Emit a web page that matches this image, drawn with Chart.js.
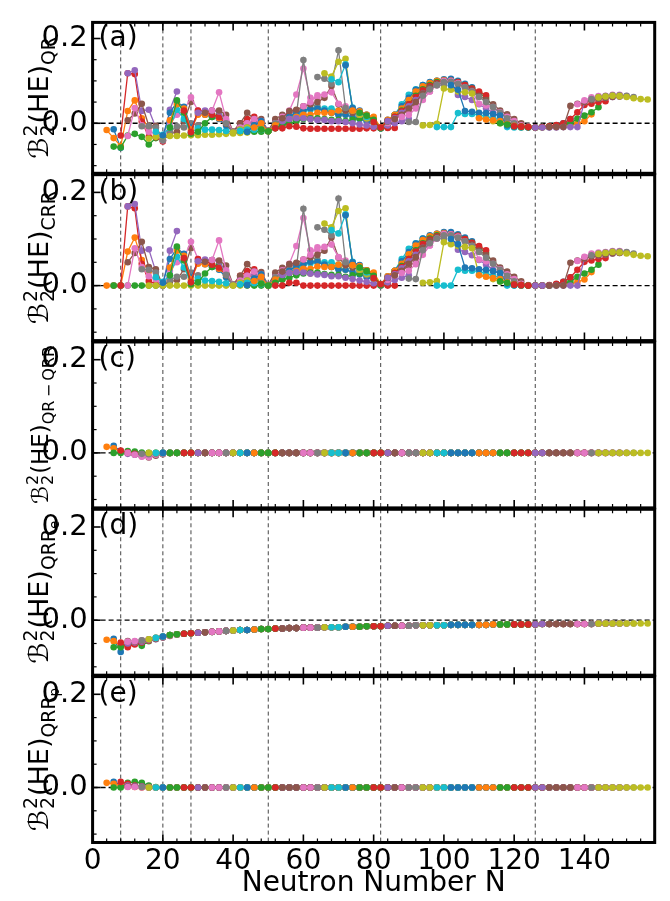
<!DOCTYPE html>
<html>
<head>
<meta charset="utf-8">
<script src="https://cdn.jsdelivr.net/npm/chart.js@4.4.1/dist/chart.umd.min.js"></script>
<style>
  body { margin: 0; background: #fff; width: 670px; height: 901px; position: relative; overflow: hidden; }
  canvas { position: absolute; left: 0; top: 0; }
</style>
</head>
<body>
<canvas id="panel0" width="670" height="901"></canvas>
<canvas id="panel1" width="670" height="901"></canvas>
<canvas id="panel2" width="670" height="901"></canvas>
<canvas id="panel3" width="670" height="901"></canvas>
<canvas id="panel4" width="670" height="901"></canvas>
<script>
// isotopic chains (even Z), first neutron number of each chain, points every 2 neutrons
const chainStartN = [6, 4, 6, 8, 10, 10, 10, 14, 16, 18, 20, 22, 22, 26, 30, 32, 34, 38, 40, 42, 44, 46, 48, 52, 54,
  54, 60, 64, 66, 68, 72, 74, 76, 80, 84, 86, 88, 90, 94, 98, 102, 110, 116, 120, 126, 130, 138, 142, 144];

// panel (a): B(HE)_QR per chain
const qrValues = [
  [-0.014, -0.058],
  [-0.016, -0.035, -0.054, 0.029, 0.054, 0.012, -0.010],
  [-0.055, -0.057, -0.029, -0.025, -0.032, -0.050, -0.035, -0.034],
  [-0.029, 0.118, 0.116, 0.004, -0.032, -0.033, -0.043, -0.020],
  [0.118, 0.125, 0.029, 0.032, -0.010, -0.040, 0.032, 0.075],
  [0.007, 0.023, 0.046, -0.006, -0.006, -0.040, -0.025, -0.020, 0.005, 0.050],
  [-0.030, 0.036, -0.005, -0.020, -0.025, -0.040, 0.000, 0.020, 0.030, 0.061, 0.030],
  [-0.007, -0.007, -0.010, -0.040, -0.020, -0.007, -0.010, 0.000, -0.005],
  [-0.036, -0.032, -0.030, -0.030, -0.030, -0.029, -0.028, -0.028, -0.027, -0.027, -0.026, -0.025, -0.024, -0.023, -0.022],
  [-0.020, -0.027, -0.010, 0.032, 0.010, -0.021, -0.012, -0.015, -0.015, -0.016, -0.018, -0.020, -0.018],
  [-0.029, 0.025, 0.050, 0.039, -0.010, 0.025, 0.020, 0.015, 0.010, -0.005, -0.020, -0.015, -0.005, -0.010],
  [0.007, 0.045, 0.035, -0.015, 0.020, 0.020, 0.020, 0.012, 0.000, -0.020, -0.010, 0.000, 0.000, -0.010],
  [-0.010, 0.054, 0.025, -0.025, -0.020, 0.000, 0.015, 0.022, 0.000, -0.020, -0.018, -0.020, -0.020, -0.020, -0.019],
  [0.030, -0.021, 0.030, 0.028, 0.020, 0.015, 0.000, -0.020, 0.000, 0.010, 0.015, 0.005, -0.018, -0.010, -0.005],
  [0.025, 0.030, 0.030, 0.028, 0.005, -0.020, -0.005, 0.000, 0.005, 0.000, -0.019, 0.005, 0.012, 0.010, 0.008],
  [0.025, 0.030, 0.030, 0.020, -0.020, 0.000, 0.025, 0.010, 0.010, -0.018, 0.010, 0.020, 0.025, 0.030, 0.020, 0.010],
  [0.030, 0.073, 0.010, -0.020, -0.010, 0.000, 0.010, 0.005, -0.018, 0.000, 0.015, 0.030, 0.068, 0.129, 0.060, 0.060],
  [0.000, -0.020, -0.015, -0.010, -0.005, -0.010, -0.018, 0.000, 0.010, 0.020, 0.020, 0.149, 0.046, 0.040, 0.030, 0.025, 0.020],
  [-0.022, -0.015, -0.010, -0.010, -0.015, -0.019, -0.005, 0.005, 0.010, 0.015, 0.030, 0.035, 0.035, 0.030, 0.030, 0.025, 0.020],
  [-0.018, -0.015, -0.015, -0.016, -0.019, -0.010, 0.000, 0.010, 0.020, 0.030, 0.032, 0.034, 0.035, 0.035, 0.030, 0.030, 0.025, 0.020],
  [-0.020, -0.005, 0.005, -0.019, -0.005, 0.005, 0.015, 0.025, 0.030, 0.035, 0.035, 0.030, 0.025, 0.020, 0.020, 0.015, 0.010, 0.005, 0.000],
  [-0.010, 0.000, -0.019, -0.005, 0.005, 0.010, 0.015, 0.020, 0.020, 0.025, 0.025, 0.025, 0.030, 0.030, 0.030, 0.025, 0.020, 0.015, -0.010],
  [-0.015, -0.019, -0.012, -0.005, 0.000, 0.005, 0.010, 0.012, 0.012, 0.010, 0.008, 0.008, 0.005, 0.008, 0.012, 0.015, 0.005, -0.012, -0.010],
  [-0.012, -0.012, -0.007, -0.008, -0.012, -0.013, -0.013, -0.013, -0.013, -0.013, -0.013, -0.013, -0.013, -0.012, -0.012, -0.012, -0.011, -0.011],
  [0.005, 0.010, 0.012, 0.012, 0.010, 0.008, 0.008, 0.005, 0.005, 0.003, 0.000, -0.003, -0.005, -0.008, -0.012, -0.005, 0.000, 0.005, 0.010],
  [0.012, 0.029, 0.032, 0.040, 0.045, 0.050, 0.060, 0.088, 0.045, 0.030, 0.025, 0.020, 0.012, 0.005, -0.010, 0.000, 0.010, 0.020, 0.030, 0.040],
  [0.040, 0.050, 0.066, 0.068, 0.073, 0.046, 0.040, 0.030, 0.020, 0.015, 0.005, -0.010, 0.000, 0.010, 0.020, 0.035, 0.050, 0.065, 0.075],
  [0.109, 0.105, 0.093, 0.172, 0.036, 0.030, 0.020, 0.010, 0.003, -0.010, 0.005, 0.015, 0.025, 0.040, 0.050, 0.070, 0.080, 0.090, 0.090],
  [0.118, 0.110, 0.145, 0.152, 0.030, 0.020, 0.012, 0.003, -0.010, 0.005, 0.020, 0.035, 0.050, 0.065, 0.085, 0.090, 0.095, 0.100, 0.100],
  [0.104, 0.097, 0.139, 0.037, 0.025, 0.015, 0.005, -0.012, 0.005, 0.020, 0.045, 0.067, 0.080, 0.090, 0.095, 0.100, 0.100, 0.098, 0.095, 0.090],
  [0.137, 0.036, 0.030, 0.020, 0.008, -0.010, 0.008, 0.020, 0.040, 0.060, 0.079, 0.090, 0.097, 0.100, 0.104, 0.105, 0.100, 0.093, 0.085],
  [0.030, 0.028, 0.020, 0.010, -0.010, 0.008, 0.020, 0.035, 0.055, 0.075, 0.087, 0.095, 0.100, 0.102, 0.100, 0.095, 0.088, 0.080, 0.070],
  [0.025, 0.018, 0.008, -0.012, 0.005, 0.015, 0.030, 0.045, 0.065, 0.080, 0.090, 0.097, 0.100, 0.100, 0.097, 0.090, 0.082, 0.072, 0.060, 0.040],
  [0.003, -0.010, 0.005, 0.015, 0.028, 0.045, 0.062, 0.078, 0.088, 0.095, 0.100, 0.100, 0.097, 0.090, 0.082, 0.075, 0.066],
  [0.005, 0.012, 0.025, 0.040, 0.055, 0.070, 0.082, 0.092, 0.098, 0.098, 0.067, 0.062, 0.055, 0.045, 0.035, 0.025, 0.015, 0.005],
  [0.010, 0.020, 0.035, 0.050, 0.070, 0.085, 0.093, 0.098, 0.097, 0.092, 0.085, 0.078, 0.065, 0.055, 0.045, 0.030, 0.021, 0.010, 0.000],
  [0.015, 0.020, 0.035, 0.055, 0.075, 0.090, 0.100, 0.100, 0.095, 0.085, 0.075, 0.046, 0.042, 0.038, 0.026, 0.015, 0.005, -0.005, -0.008],
  [0.003, 0.003, 0.065, 0.080, 0.090, 0.097, 0.098, 0.093, 0.085, 0.075, 0.062, 0.050, 0.038, 0.025, 0.012, 0.000, -0.008, -0.009, -0.010],
  [-0.005, -0.004, -0.001, 0.082, 0.079, 0.075, 0.073, 0.070, 0.014, 0.010, 0.005, 0.000, -0.005, -0.008, -0.010, -0.010, -0.010, -0.010],
  [-0.009, -0.009, -0.009, 0.024, 0.022, 0.022, 0.020, 0.016, 0.012, 0.008, -0.009, -0.010, -0.010, -0.010, -0.010, -0.009, -0.009],
  [0.090, 0.079, 0.029, 0.027, 0.025, 0.024, 0.022, 0.018, -0.005, -0.008, -0.009, -0.010, -0.010, -0.009, -0.008, -0.005, 0.000, 0.010],
  [0.012, 0.009, 0.007, 0.005, -0.002, -0.006, -0.008, -0.009, -0.010, -0.009, -0.008, -0.006, -0.003, -0.005, 0.000, 0.005, 0.021],
  [0.000, -0.003, -0.007, -0.008, -0.009, -0.010, -0.009, -0.008, -0.005, -0.002, 0.000, 0.011, 0.018, 0.026, 0.038],
  [-0.007, -0.008, -0.009, -0.010, -0.009, -0.007, -0.004, 0.000, 0.010, 0.026, 0.043, 0.046, 0.050, 0.052],
  [-0.010, -0.010, -0.010, -0.010, -0.009, -0.009, -0.009, 0.050, 0.055, 0.058, 0.060, 0.062, 0.063],
  [-0.009, -0.009, -0.009, 0.041, 0.046, 0.050, 0.055, 0.058, 0.060, 0.062, 0.063],
  [0.045, 0.054, 0.061, 0.064, 0.065, 0.067, 0.067, 0.064],
  [0.057, 0.062, 0.064, 0.066, 0.066, 0.065, 0.062],
  [0.061, 0.063, 0.065, 0.064, 0.062, 0.059, 0.057, 0.056]
];

// panel (b): B(HE)_CRR per chain
const crrValues = [
  [0, 0],
  [0, 0, 0, 0.073, 0.103, 0.055, 0.030],
  [0, 0, 0, 0, 0, 0, 0, 0],
  [0, 0.170, 0.166, 0.047, 0.010, 0.004, 0, 0.012],
  [0.170, 0.175, 0.075, 0.078, 0.030, 0, 0.075, 0.117],
  [0.050, 0.070, 0.094, 0.040, 0.035, 0, 0.008, 0.012, 0.035, 0.080],
  [0, 0.080, 0.040, 0.020, 0.013, 0, 0.032, 0.050, 0.059, 0.094, 0.057],
  [0.035, 0.034, 0.028, 0, 0.012, 0.019, 0.019, 0.028, 0.022],
  [0, 0, 0, 0, 0, 0, 0, 0, 0, 0, 0, 0, 0, 0, 0],
  [0.018, 0.008, 0.022, 0.062, 0.039, 0.007, 0.015, 0.011, 0.010, 0.008, 0.005, 0.002, 0.003],
  [0.006, 0.057, 0.080, 0.068, 0.018, 0.052, 0.046, 0.040, 0.034, 0.018, 0.002, 0.006, 0.016, 0.010],
  [0.039, 0.075, 0.064, 0.013, 0.047, 0.046, 0.045, 0.036, 0.023, 0.002, 0.011, 0.021, 0.020, 0.009],
  [0.022, 0.084, 0.054, 0.003, 0.007, 0.026, 0.040, 0.046, 0.023, 0.002, 0.003, 0.001, 0, 0, 0],
  [0.059, 0.007, 0.057, 0.054, 0.045, 0.039, 0.023, 0.002, 0.021, 0.031, 0.035, 0.024, 0.001, 0.008, 0.013],
  [0.052, 0.056, 0.055, 0.052, 0.028, 0.002, 0.016, 0.021, 0.025, 0.019, 0, 0.023, 0.030, 0.027, 0.025],
  [0.051, 0.055, 0.054, 0.043, 0.002, 0.021, 0.046, 0.030, 0.029, 0.001, 0.028, 0.038, 0.042, 0.047, 0.036, 0.026],
  [0.055, 0.097, 0.033, 0.002, 0.011, 0.021, 0.030, 0.024, 0.001, 0.018, 0.033, 0.047, 0.085, 0.145, 0.076, 0.076],
  [0.023, 0.002, 0.006, 0.011, 0.015, 0.009, 0.001, 0.018, 0.028, 0.037, 0.037, 0.165, 0.062, 0.056, 0.045, 0.040, 0.035],
  [0, 0.006, 0.011, 0.010, 0.004, 0, 0.013, 0.023, 0.027, 0.032, 0.046, 0.051, 0.051, 0.045, 0.045, 0.040, 0.034],
  [0.003, 0.006, 0.005, 0.003, 0, 0.008, 0.018, 0.027, 0.037, 0.046, 0.048, 0.050, 0.050, 0.050, 0.045, 0.044, 0.039, 0.034],
  [0.001, 0.015, 0.024, 0, 0.013, 0.023, 0.032, 0.042, 0.046, 0.051, 0.051, 0.045, 0.040, 0.035, 0.034, 0.029, 0.024, 0.018, 0.013],
  [0.010, 0.019, 0, 0.013, 0.023, 0.027, 0.032, 0.036, 0.036, 0.041, 0.040, 0.040, 0.045, 0.044, 0.044, 0.039, 0.033, 0.028, 0.003],
  [0.004, 0, 0.006, 0.013, 0.017, 0.022, 0.026, 0.028, 0.028, 0.025, 0.023, 0.023, 0.019, 0.022, 0.026, 0.028, 0.018, 0.001, 0.002],
  [0, 0, 0.006, 0.006, 0, 0, 0, 0, 0, 0, 0, 0, 0, 0, 0, 0, 0, 0],
  [0.023, 0.027, 0.029, 0.028, 0.026, 0.024, 0.023, 0.020, 0.020, 0.017, 0.014, 0.011, 0.008, 0.005, 0.001, 0.007, 0.012, 0.017, 0.022],
  [0.030, 0.046, 0.049, 0.056, 0.061, 0.066, 0.075, 0.103, 0.060, 0.044, 0.039, 0.034, 0.025, 0.018, 0.003, 0.012, 0.022, 0.032, 0.042, 0.051],
  [0.056, 0.066, 0.082, 0.083, 0.088, 0.061, 0.054, 0.044, 0.034, 0.028, 0.018, 0.003, 0.012, 0.022, 0.032, 0.047, 0.061, 0.076, 0.086],
  [0.125, 0.120, 0.108, 0.187, 0.050, 0.044, 0.034, 0.023, 0.016, 0.003, 0.017, 0.027, 0.037, 0.052, 0.061, 0.081, 0.091, 0.101, 0.101],
  [0.133, 0.125, 0.160, 0.166, 0.044, 0.034, 0.025, 0.016, 0.003, 0.017, 0.032, 0.047, 0.062, 0.076, 0.096, 0.101, 0.106, 0.111, 0.110],
  [0.119, 0.112, 0.153, 0.051, 0.039, 0.028, 0.018, 0.001, 0.017, 0.032, 0.057, 0.079, 0.091, 0.101, 0.106, 0.111, 0.110, 0.108, 0.105, 0.100],
  [0.151, 0.050, 0.044, 0.033, 0.021, 0.003, 0.020, 0.032, 0.052, 0.072, 0.090, 0.101, 0.108, 0.111, 0.115, 0.115, 0.110, 0.103, 0.095],
  [0.044, 0.042, 0.033, 0.023, 0.003, 0.020, 0.032, 0.047, 0.067, 0.086, 0.098, 0.106, 0.111, 0.113, 0.110, 0.105, 0.098, 0.090, 0.080],
  [0.039, 0.031, 0.021, 0.001, 0.017, 0.027, 0.042, 0.057, 0.076, 0.091, 0.101, 0.108, 0.111, 0.110, 0.107, 0.100, 0.092, 0.082, 0.070, 0.049],
  [0.016, 0.003, 0.017, 0.027, 0.040, 0.057, 0.073, 0.089, 0.099, 0.106, 0.111, 0.110, 0.107, 0.100, 0.092, 0.085, 0.076],
  [0.017, 0.024, 0.037, 0.052, 0.066, 0.081, 0.093, 0.103, 0.109, 0.108, 0.077, 0.072, 0.065, 0.055, 0.045, 0.034, 0.024, 0.014],
  [0.022, 0.032, 0.047, 0.061, 0.081, 0.096, 0.104, 0.109, 0.107, 0.102, 0.095, 0.088, 0.075, 0.065, 0.054, 0.039, 0.030, 0.019, 0.009],
  [0.027, 0.032, 0.046, 0.066, 0.086, 0.101, 0.111, 0.110, 0.105, 0.095, 0.085, 0.056, 0.052, 0.047, 0.035, 0.024, 0.014, 0.004, 0.001],
  [0.015, 0.014, 0.076, 0.091, 0.101, 0.108, 0.108, 0.103, 0.095, 0.085, 0.072, 0.060, 0.047, 0.034, 0.021, 0.009, 0.001, 0, 0],
  [0.006, 0.007, 0.010, 0.093, 0.089, 0.085, 0.083, 0.080, 0.024, 0.020, 0.014, 0.009, 0.004, 0.001, 0, 0, 0, 0],
  [0, 0, 0, 0.034, 0.032, 0.032, 0.030, 0.026, 0.021, 0.017, 0, 0, 0, 0, 0, 0, 0],
  [0.100, 0.089, 0.039, 0.037, 0.035, 0.034, 0.031, 0.027, 0.004, 0.001, 0, 0, 0, 0, 0, 0.003, 0.008, 0.018],
  [0.022, 0.019, 0.016, 0.014, 0.007, 0.003, 0.001, 0, 0, 0, 0, 0.002, 0.005, 0.003, 0.008, 0.013, 0.029],
  [0.009, 0.006, 0.002, 0.001, 0, 0, 0, 0, 0.003, 0.006, 0.008, 0.019, 0.026, 0.034, 0.045],
  [0.002, 0.001, 0, 0, 0, 0.001, 0.004, 0.008, 0.018, 0.034, 0.051, 0.054, 0.057, 0.059],
  [0, 0, 0, 0, 0, 0, 0, 0.058, 0.063, 0.065, 0.067, 0.069, 0.070],
  [0, 0, 0, 0.049, 0.054, 0.058, 0.063, 0.065, 0.067, 0.069, 0.070],
  [0.053, 0.062, 0.069, 0.071, 0.072, 0.074, 0.074, 0.071],
  [0.065, 0.069, 0.071, 0.073, 0.073, 0.072, 0.069],
  [0.068, 0.070, 0.072, 0.071, 0.069, 0.066, 0.064, 0.063]
];

// panels (c)-(e): heavier chains all sit on one value per N (N = 4, 6, ..., 158)
const diffBase = [
  0, 0, 0, 0, 0, 0, 0, 0, 0, 0, 0, 0, 0, 0, 0, 0, 0, 0, 0, 0, 0, 0, 0, 0, 0, 0,
  0, 0, 0, 0, 0, 0, 0, 0, 0, 0, 0, 0, 0, 0, 0, 0, 0, 0, 0, 0, 0, 0, 0, 0, 0, 0,
  0, 0, 0, 0, 0, 0, 0, 0, 0, 0, 0, 0, 0, 0, 0, 0, 0, 0, 0, 0, 0, 0, 0, 0, 0, 0
];
const elecBase = [
  -0.042, -0.048, -0.052, -0.047, -0.045, -0.043, -0.041, -0.038, -0.035, -0.032,
  -0.030, -0.029, -0.028, -0.027, -0.026, -0.025, -0.024, -0.023, -0.022, -0.021,
  -0.021, -0.020, -0.019, -0.019, -0.018, -0.018, -0.017, -0.017, -0.016, -0.016,
  -0.016, -0.015, -0.015, -0.015, -0.014, -0.014, -0.014, -0.013, -0.013, -0.013,
  -0.012, -0.012, -0.012, -0.012, -0.011, -0.011, -0.011, -0.011, -0.011, -0.010,
  -0.010, -0.010, -0.010, -0.010, -0.010, -0.009, -0.009, -0.009, -0.009, -0.009,
  -0.009, -0.009, -0.008, -0.008, -0.008, -0.008, -0.008, -0.008, -0.008, -0.008,
  -0.007, -0.007, -0.007, -0.007, -0.007, -0.007, -0.007, -0.007
];
const protBase = [
  0, 0, 0, 0, 0, 0, 0, 0, 0, 0, 0, 0, 0, 0, 0, 0, 0, 0, 0, 0, 0, 0, 0, 0, 0, 0,
  0, 0, 0, 0, 0, 0, 0, 0, 0, 0, 0, 0, 0, 0, 0, 0, 0, 0, 0, 0, 0, 0, 0, 0, 0, 0,
  0, 0, 0, 0, 0, 0, 0, 0, 0, 0, 0, 0, 0, 0, 0, 0, 0, 0, 0, 0, 0, 0, 0, 0, 0, 0
];

// light chains (first 8) spread out in panels (c)-(e)
const lightDiff = [
  [0.015, 0.004],
  [0.013, 0.010, 0.003, 0.000, -0.003, -0.002, -0.001],
  [0.000, 0.000, 0.004, 0.003, 0.001, 0.000, 0.000, 0.000],
  [0.005, 0.001, -0.002, -0.003, -0.002, -0.001, 0.000, 0.000],
  [-0.002, -0.004, -0.006, -0.004, -0.002, 0.000, 0.000, 0.000],
  [0.000, -0.003, -0.007, -0.010, -0.006, -0.003, -0.001, 0.000, 0.000, 0.000],
  [0.000, -0.004, -0.008, -0.009, -0.004, -0.002, 0.000, 0.000, 0.000, 0.000, 0.000],
  [-0.002, -0.003, -0.002, -0.001, 0.000, 0.000, 0.000, 0.000, 0.000]
];
const lightElec = [
  [-0.040, -0.068],
  [-0.042, -0.045, -0.055, -0.055, -0.050, -0.046, -0.042],
  [-0.058, -0.058, -0.052, -0.050, -0.055, -0.045, -0.040, -0.036],
  [-0.048, -0.058, -0.052, -0.048, -0.044, -0.040, -0.036, -0.033],
  [-0.050, -0.048, -0.046, -0.043, -0.041, -0.037, -0.033, -0.031],
  [-0.045, -0.046, -0.044, -0.042, -0.040, -0.037, -0.034, -0.031, -0.029, -0.028],
  [-0.046, -0.045, -0.043, -0.041, -0.038, -0.036, -0.033, -0.031, -0.029, -0.028, -0.027],
  [-0.043, -0.041, -0.038, -0.035, -0.032, -0.030, -0.029, -0.028, -0.027]
];
const lightProt = [
  [0.012, 0.006],
  [0.010, 0.008, 0.004, 0.002, 0.001, 0.000, 0.000],
  [0.000, 0.000, 0.010, 0.012, 0.010, 0.004, 0.001, 0.000],
  [0.012, 0.008, 0.004, 0.002, 0.001, 0.000, 0.000, 0.000],
  [0.004, 0.003, 0.002, 0.001, 0.000, 0.000, 0.000, 0.000],
  [0.002, 0.002, 0.001, 0.000, 0.000, 0.000, 0.000, 0.000, 0.000, 0.000],
  [0.001, 0.001, 0.000, 0.000, 0.000, 0.000, 0.000, 0.000, 0.000, 0.000, 0.000],
  [0.001, 0.000, 0.000, 0.000, 0.000, 0.000, 0.000, 0.000, 0.000]
];

const magicN = [8, 20, 28, 50, 82, 126];
const xTicks = [0, 20, 40, 60, 80, 100, 120, 140];
const yTicks = [0.0, 0.2];
const panelTags = ["(a)", "(b)", "(c)", "(d)", "(e)"];
const labelSubs = ["QR", "CRR", "QR\u2009\u2212\u2009QRR", "QRR", "QRR"];
const labelSubSubs = ["", "", "", "e", "p"];

const TAB10 = ["#1f77b4", "#ff7f0e", "#2ca02c", "#d62728", "#9467bd", "#8c564b", "#e377c2", "#7f7f7f", "#bcbd22", "#17becf"];
const FONT = "DejaVu Sans";
const Y_MIN = -0.118, Y_MAX = 0.238;
const X_LEFT = 92.6, X_RIGHT = 654.7;

Chart.defaults.font.family = FONT;

function panelSeries(p, i) {
  const start = chainStartN[i];
  const pts = [];
  const vals = p === 0 ? qrValues[i] : p === 1 ? crrValues[i] : null;
  const light = p >= 2 ? [lightDiff, lightElec, lightProt][p - 2][i] : null;
  const base = p >= 2 ? [diffBase, elecBase, protBase][p - 2] : null;
  const len = vals ? vals.length : qrValues[i].length;
  for (let k = 0; k < len; k++) {
    const n = start + 2 * k;
    const v = vals ? vals[k] : (light ? light[k] : base[(n - 4) / 2]);
    pts.push({ x: n, y: v });
  }
  return pts;
}

// rotated y label with super/subscripts; shrinks to fit the panel height
function drawYLabel(ctx, p, cx, cy, maxLen) {
  const fs = s => s + "px '" + FONT + "'";
  const measure = f => {
    ctx.font = fs(f);
    const wB = ctx.measureText("\u212C").width;
    const wHE = ctx.measureText("(HE)").width;
    ctx.font = fs(f * 0.7);
    const w2 = ctx.measureText("2").width;
    const wSub = ctx.measureText(labelSubs[p]).width;
    ctx.font = fs(f * 0.5);
    const wSS = labelSubSubs[p] ? ctx.measureText(labelSubSubs[p]).width : 0;
    return { wB, wHE, w2, wSub, wSS, total: wB + w2 + wHE + wSub + wSS + 2 };
  };
  let f = 27;
  let m = measure(f);
  if (m.total > maxLen) { f = f * maxLen / m.total; m = measure(f); }
  ctx.save();
  ctx.translate(cx, cy);
  ctx.rotate(-Math.PI / 2);
  ctx.fillStyle = "#000";
  ctx.textBaseline = "alphabetic";
  let x0 = -m.total / 2;
  ctx.font = "italic " + fs(f);
  ctx.fillText("\u212C", x0, 0);
  x0 += m.wB + 1;
  ctx.font = fs(f * 0.7);
  ctx.fillText("2", x0, -0.42 * f);
  ctx.fillText("2", x0, 0.22 * f);
  x0 += m.w2 + 1;
  ctx.font = fs(f);
  ctx.fillText("(HE)", x0, 0);
  x0 += m.wHE;
  ctx.font = fs(f * 0.7);
  ctx.fillText(labelSubs[p], x0, 0.25 * f);
  x0 += m.wSub;
  if (m.wSS) {
    ctx.font = fs(f * 0.5);
    ctx.fillText(labelSubSubs[p], x0, 0.42 * f);
  }
  ctx.restore();
}

const decorations = {
  id: "decorations",
  beforeDatasetsDraw(chart) {
    const { ctx, chartArea: a, scales: { x, y } } = chart;
    ctx.save();
    ctx.strokeStyle = "#444";
    ctx.lineWidth = 1;
    ctx.setLineDash([4, 3]);
    magicN.forEach(n => {
      const px = x.getPixelForValue(n);
      ctx.beginPath();
      ctx.moveTo(px, a.top);
      ctx.lineTo(px, a.bottom);
      ctx.stroke();
    });
    ctx.strokeStyle = "#000";
    ctx.lineWidth = 1.3;
    ctx.setLineDash([5, 3]);
    const py = y.getPixelForValue(0);
    ctx.beginPath();
    ctx.moveTo(a.left, py);
    ctx.lineTo(a.right, py);
    ctx.stroke();
    ctx.restore();
  },
  afterDraw(chart, args, opts) {
    const { ctx, chartArea: a, scales: { x, y } } = chart;
    const p = opts.panel;
    ctx.save();
    ctx.strokeStyle = "#000";
    // inward ticks
    for (let v = 0; v <= 160; v += 4) {
      const px = x.getPixelForValue(v);
      const major = v % 20 === 0;
      const len = major ? 8 : 4;
      ctx.lineWidth = major ? 1.6 : 1.2;
      ctx.beginPath();
      ctx.moveTo(px, a.bottom); ctx.lineTo(px, a.bottom - len);
      ctx.moveTo(px, a.top); ctx.lineTo(px, a.top + len);
      ctx.stroke();
    }
    for (let k = -2; k <= 4; k++) {
      const py = y.getPixelForValue(k * 0.05);
      const major = k % 4 === 0;
      ctx.lineWidth = major ? 1.6 : 1.2;
      ctx.beginPath();
      ctx.moveTo(a.left, py); ctx.lineTo(a.left + (major ? 8 : 4), py);
      ctx.stroke();
    }
    // frame
    ctx.lineWidth = 3;
    ctx.strokeRect(a.left, a.top, a.right - a.left, a.bottom - a.top);
    // panel tag
    ctx.fillStyle = "#000";
    ctx.font = "28px '" + FONT + "'";
    ctx.textBaseline = "middle";
    ctx.textAlign = "left";
    ctx.fillText(panelTags[p], a.left + 6, y.getPixelForValue(0.2));
    ctx.restore();
    drawYLabel(ctx, p, 48, (a.top + a.bottom) / 2, a.bottom - a.top - 8);
  }
};

for (let p = 0; p < 5; p++) {
  const zeroY = 118.3 + 167.3 * p;
  const top = zeroY - Y_MAX * 466;
  const bottom = zeroY - Y_MIN * 466;
  const isLast = p === 4;
  const datasets = chainStartN.map((s, i) => {
    const color = TAB10[i % 10];
    return {
      data: panelSeries(p, i),
      showLine: true,
      borderColor: color,
      backgroundColor: color,
      pointBackgroundColor: color,
      borderWidth: 1.3,
      pointRadius: 3.3,
      pointBorderWidth: 0,
      order: -i
    };
  });

  const xScale = {
    type: "linear",
    min: 0,
    max: 160,
    display: isLast,
    grid: { display: false, drawTicks: false },
    border: { display: false },
    afterBuildTicks: ax => { ax.ticks = xTicks.map(v => ({ value: v })); },
    ticks: { font: { size: 28 }, color: "#000", padding: 2, maxRotation: 0, autoSkip: false },
    title: { display: true, text: "Neutron Number N", font: { size: 28 }, color: "#000", padding: 0 }
  };
  if (isLast) xScale.afterFit = ax => { ax.height = 901 - bottom; };

  new Chart(document.getElementById("panel" + p), {
    type: "scatter",
    data: { datasets },
    plugins: [decorations],
    options: {
      responsive: false,
      animation: false,
      events: [],
      layout: { padding: { left: 0, right: 670 - X_RIGHT, top: top, bottom: isLast ? 0 : 901 - bottom } },
      plugins: {
        legend: { display: false },
        tooltip: { enabled: false },
        decorations: { panel: p }
      },
      scales: {
        x: xScale,
        y: {
          min: Y_MIN,
          max: Y_MAX,
          grid: { display: false, drawTicks: false },
          border: { display: false },
          afterBuildTicks: ax => { ax.ticks = yTicks.map(v => ({ value: v })); },
          afterFit: ax => { ax.width = X_LEFT; },
          ticks: { font: { size: 29 }, color: "#000", padding: 5, callback: v => v.toFixed(1) }
        }
      }
    }
  });
}
</script>
</body>
</html>
